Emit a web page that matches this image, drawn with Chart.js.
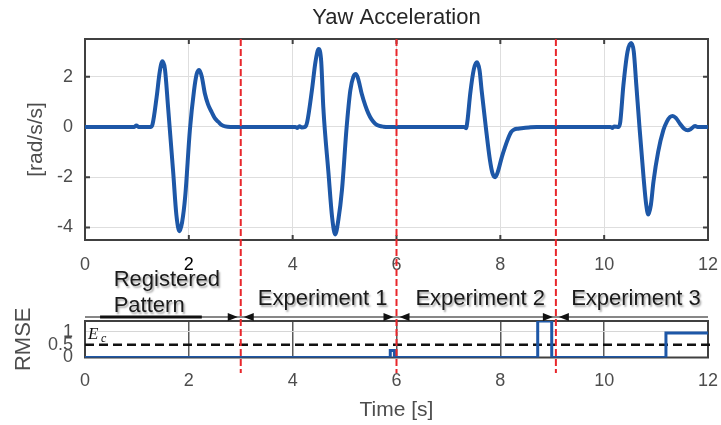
<!DOCTYPE html>
<html>
<head>
<meta charset="utf-8">
<script src="https://cdn.jsdelivr.net/npm/chart.js@4"></script>
<style>
body{margin:0;background:#fff;}
#wrap{position:relative;width:721px;height:425px;}
#wrap canvas{position:absolute;left:0;top:0;}
</style>
</head>
<body>
<div id="wrap">
<canvas id="yawChart" width="721" height="425"></canvas>
<canvas id="rmseChart" width="721" height="425"></canvas>
</div>
<script>
// yaw acceleration trace (t in s, value in rad/s/s)
const yawTime=[0,0.95,0.99,1.03,1.26,1.30,1.38,1.44,1.49,1.54,1.60,1.70,1.76,1.82,1.87,1.93,2.02,2.10,2.15,2.20,2.25,2.31,2.37,2.44,2.50,2.57,2.63,2.70,2.80,
  4.05,4.09,4.13,4.17,4.24,4.28,4.37,4.44,4.50,4.55,4.59,4.69,4.76,4.82,4.88,4.95,5.04,5.11,5.17,5.22,5.27,5.33,5.40,5.46,5.52,5.59,5.67,5.75,5.85,
  7.30,7.34,7.37,7.42,7.49,7.55,7.60,7.64,7.72,7.80,7.85,7.90,7.95,8.03,8.09,8.15,8.21,8.27,8.34,8.41,8.55,8.70,
  10.12,10.16,10.19,10.28,10.31,10.37,10.45,10.52,10.57,10.62,10.68,10.76,10.81,10.85,10.90,10.95,11.04,11.14,11.21,11.27,11.32,11.38,11.46,11.54,11.61,11.67,11.75,11.80,12];
const yawAcc=[0,0,0.06,0,0,0.1,1.19,2.2,2.61,2.3,0.79,-1.84,-3.5,-4.15,-3.8,-2.77,-0.13,1.45,2.1,2.27,2.0,1.32,0.9,0.59,0.35,0.2,0.08,0.02,0,
  0,-0.04,0.03,-0.02,0,0.2,1.45,2.6,3.10,2.6,0.79,-1.84,-3.6,-4.28,-3.7,-2.5,0,1.45,2.0,2.11,1.85,1.32,0.85,0.53,0.3,0.13,0.04,0.01,0,
  0,-0.05,0.3,1.32,2.3,2.57,2.25,1.45,0,-1.32,-1.85,-2.0,-1.8,-1.19,-0.8,-0.46,-0.2,-0.1,-0.07,-0.05,-0.02,0,
  0,-0.04,0.02,0,0.2,1.65,3.0,3.34,3.0,1.65,0,-2.04,-3.1,-3.49,-3.1,-2.17,-0.99,-0.13,0.22,0.4,0.44,0.36,0.13,-0.07,-0.13,-0.08,0.04,0,0];

// RMSE, held from each time until the next one
const rmseTime=[0,5.88,5.96,8.72,8.99,11.19,12];
const rmseVal=[0,0.27,0,1.42,0,0.95,0.95];
const errThreshold=0.5;   // E_c

const phaseBounds=[3,6,9.07];
const phaseNames=[['Registered','Pattern'],['Experiment 1'],['Experiment 2'],['Experiment 3']];

const timeTicks=[0,2,4,6,8,10,12];
const yawTicks=[-4,-2,0,2];
const rmseTicks=[0,0.5,1];

Chart.defaults.font.family="'Liberation Sans', Arial, sans-serif";
Chart.defaults.color='#4d4d4d';

const blue='#1d57a7';
const tickFont={size:18};

function boxAndMarks(chart,markX,markY){
  const a=chart.chartArea,ctx=chart.ctx;
  ctx.save();
  ctx.strokeStyle='#404040';
  ctx.lineWidth=2;
  ctx.strokeRect(a.left,a.top,a.right-a.left,a.bottom-a.top);
  ctx.beginPath();
  if(markX){
    chart.scales.x.ticks.forEach(t=>{
      const px=chart.scales.x.getPixelForValue(t.value);
      ctx.moveTo(px,a.top);ctx.lineTo(px,a.top+5);
      ctx.moveTo(px,a.bottom);ctx.lineTo(px,a.bottom-5);
    });
  }
  if(markY){
    chart.scales.y.ticks.forEach(t=>{
      const py=chart.scales.y.getPixelForValue(t.value);
      ctx.moveTo(a.left,py);ctx.lineTo(a.left+5,py);
      ctx.moveTo(a.right,py);ctx.lineTo(a.right-5,py);
    });
  }
  ctx.stroke();
  ctx.restore();
}

function fixX(h){
  return s=>{s.height=h;s.paddingLeft=0;s.paddingRight=0;};
}
function fixY(s){s.width=85;s.paddingTop=0;s.paddingBottom=0;}

const yawChart=new Chart(document.getElementById('yawChart'),{
  type:'line',
  data:{
    datasets:[{
      data:yawTime.map((t,i)=>({x:t,y:yawAcc[i]})),
      borderColor:blue,
      borderWidth:4,
      pointRadius:0,
      cubicInterpolationMode:'monotone'
    }]
  },
  options:{
    responsive:false,
    animation:false,
    devicePixelRatio:1,
    layout:{padding:{left:0,right:13,top:0,bottom:145}},
    plugins:{
      legend:{display:false},
      tooltip:{enabled:false},
      title:{
        display:true,
        text:'Yaw Acceleration',
        color:'#262626',
        fullSize:false,
        font:{size:22,weight:'normal'},
        padding:{top:5,bottom:7.6}
      }
    },
    scales:{
      x:{
        type:'linear',min:0,max:12,
        afterBuildTicks:s=>{s.ticks=timeTicks.map(v=>({value:v}));},
        afterFit:fixX(40),
        ticks:{font:tickFont,padding:14,autoSkip:false,maxRotation:0,
          color:c=>c.tick.value===2?'#000':'#4d4d4d'},
        grid:{color:'#dedede',lineWidth:1,drawTicks:false},
        border:{display:false}
      },
      y:{
        min:-4.5,max:3.5,
        afterBuildTicks:s=>{s.ticks=yawTicks.map(v=>({value:v}));},
        afterFit:fixY,
        ticks:{font:tickFont,padding:12,autoSkip:false},
        grid:{color:'#dedede',lineWidth:1,drawTicks:false},
        border:{display:false},
        title:{display:true,text:'[rad/s/s]',font:{size:21},color:'#4d4d4d',padding:{top:24,bottom:0}}
      }
    }
  },
  plugins:[{
    id:'frame',
    beforeDatasetsDraw(chart){boxAndMarks(chart,true,true);}
  }]
});

const rmseChart=new Chart(document.getElementById('rmseChart'),{
  type:'line',
  data:{
    datasets:[{
      data:rmseTime.map((t,i)=>({x:t,y:rmseVal[i]})),
      borderColor:blue,
      borderWidth:3,
      pointRadius:0,
      stepped:true
    },{
      data:[{x:0,y:errThreshold},{x:12.12,y:errThreshold}],
      borderColor:'#111',
      borderWidth:2.5,
      borderDash:[9,5],
      pointRadius:0,
      clip:false
    }]
  },
  options:{
    responsive:false,
    animation:false,
    devicePixelRatio:1,
    layout:{padding:{left:0,right:13,top:321,bottom:0}},
    plugins:{legend:{display:false},tooltip:{enabled:false}},
    scales:{
      x:{
        type:'linear',min:0,max:12,
        afterBuildTicks:s=>{s.ticks=timeTicks.map(v=>({value:v}));},
        afterFit:fixX(67.5),
        ticks:{font:tickFont,padding:13,autoSkip:false,maxRotation:0},
        grid:{color:'#5a5a5a',lineWidth:1.5,drawTicks:false},
        border:{display:false},
        title:{display:true,text:'Time [s]',font:{size:21},color:'#4d4d4d',padding:{top:0,bottom:2}}
      },
      y:{
        min:0,max:1.42,
        afterBuildTicks:s=>{s.ticks=rmseTicks.map(v=>({value:v}));},
        afterFit:fixY,
        ticks:{font:tickFont,padding:12,autoSkip:false,callback:v=>String(v)},
        grid:{color:c=>c.tick.value===1?'#d6d6d6':'rgba(0,0,0,0)',lineWidth:1,drawTicks:false},
        border:{display:false},
        title:{display:true,text:'RMSE',font:{size:22},color:'#4d4d4d',padding:{top:10.8,bottom:0}}
      }
    }
  },
  plugins:[{
    id:'frame',
    beforeDatasetsDraw(chart){boxAndMarks(chart,false,false);},
    afterDraw(chart){
      const ctx=chart.ctx,a=chart.chartArea,xs=chart.scales.x;
      const ys=chart.scales.y;
      const bounds=[xs.min].concat(phaseBounds,[xs.max]);
      const px=bounds.map(v=>xs.getPixelForValue(v));
      const ay=a.top-4;
      ctx.save();
      // phase arrows
      ctx.strokeStyle='#111';ctx.fillStyle='#111';ctx.lineWidth=1.2;
      ctx.beginPath();ctx.moveTo(px[0],ay);ctx.lineTo(px[px.length-1],ay);ctx.stroke();
      ctx.lineWidth=3;
      ctx.beginPath();ctx.moveTo(xs.getPixelForValue(0.29),ay);ctx.lineTo(xs.getPixelForValue(2.25),ay);ctx.stroke();
      function head(tip,dir){
        ctx.beginPath();
        ctx.moveTo(tip,ay);
        ctx.lineTo(tip-dir*10,ay-4);
        ctx.lineTo(tip-dir*10,ay+4);
        ctx.closePath();ctx.fill();
      }
      for(let i=1;i<px.length-1;i++){
        head(px[i]-3,1);
        head(px[i]+3,-1);
      }
      // phase names
      ctx.font="22px 'Liberation Sans', Arial, sans-serif";
      ctx.fillStyle='#1a1a1a';
      ctx.shadowColor='rgba(0,0,0,0.35)';
      ctx.shadowBlur=2;ctx.shadowOffsetX=1.5;ctx.shadowOffsetY=1.5;
      phaseNames.forEach((lines,i)=>{
        const mid=(px[i]+px[i+1])/2+4;
        if(lines.length===2){
          const w=ctx.measureText(lines[0]).width;
          ctx.textAlign='left';
          ctx.fillText(lines[0],mid-w/2,a.top-35);
          ctx.fillText(lines[1],mid-w/2,a.top-9);
        }else{
          ctx.textAlign='center';
          ctx.fillText(lines[0],mid,a.top-16);
        }
      });
      ctx.shadowColor='rgba(0,0,0,0)';
      // E_c label
      ctx.textAlign='left';
      ctx.fillStyle='#111';
      ctx.font="italic 17px 'Liberation Serif', serif";
      ctx.fillText('E',a.left+3,ys.getPixelForValue(errThreshold)-6);
      ctx.font="italic 12px 'Liberation Serif', serif";
      ctx.fillText('c',a.left+16,ys.getPixelForValue(errThreshold)-3);
      // phase boundaries across both plots
      ctx.strokeStyle='#e8262b';ctx.lineWidth=2;ctx.setLineDash([7,3]);
      const top=yawChart.chartArea.top;
      for(let i=1;i<px.length-1;i++){
        ctx.beginPath();ctx.moveTo(px[i],top);ctx.lineTo(px[i],a.bottom+15.5);ctx.stroke();
      }
      ctx.restore();
    }
  }]
});
</script>
</body>
</html>
